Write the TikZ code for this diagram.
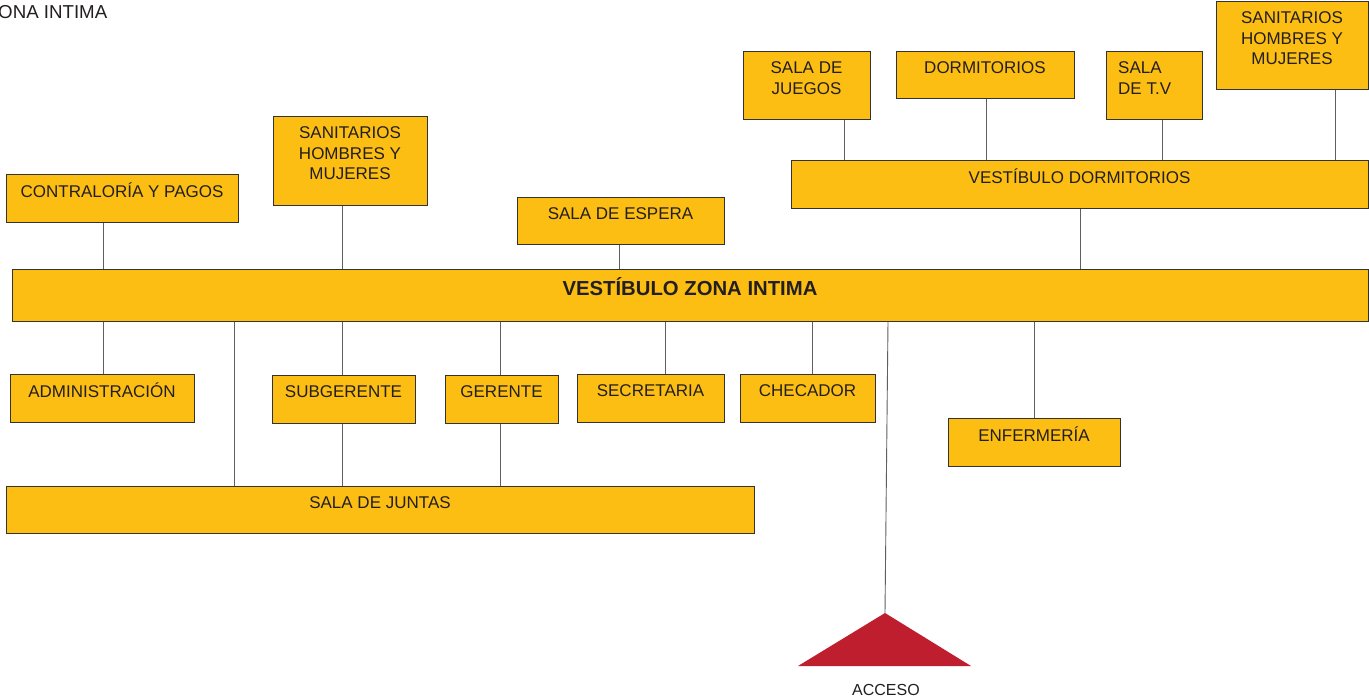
\documentclass[tikz,border=0pt]{standalone}
\usepackage{fontspec}
\setmainfont{Liberation Sans}
\usetikzlibrary{fit}
\definecolor{boxfill}{RGB}{252,190,18}
\definecolor{boxline}{RGB}{50,50,50}
\definecolor{conn}{RGB}{95,95,95}
\definecolor{txt}{RGB}{35,31,32}
\definecolor{accred}{RGB}{190,30,45}
\begin{document}
\begin{tikzpicture}[x=1pt,y=-1pt,
  room/.style={draw=boxline, fill=boxfill, line width=1pt, inner sep=0pt, rectangle},
  lbl/.style={anchor=north, inner sep=0pt, align=center, text=txt,
    font=\fontsize{17}{20.5}\selectfont, yshift=-8.6pt},
  link/.style={draw=conn, line width=0.9pt}]
\useasboundingbox (0,0) rectangle (1369,699);
\fill[white] (0,0) rectangle (1369,699);

% boxes
\node[room, fit={(6,174) (238,222)}] (contra) {};
\node[room, fit={(273,116) (427,205)}] (sanL) {};
\node[room, fit={(517,197) (724,244)}] (espera) {};
\node[room, fit={(12,269) (1368,321)}] (main) {};
\node[room, fit={(791,160) (1368,208)}] (vdorm) {};
\node[room, fit={(743,51) (870,119)}] (juegos) {};
\node[room, fit={(896,51) (1074,98)}] (dorm) {};
\node[room, fit={(1106,51) (1202,119)}] (tv) {};
\node[room, fit={(1216,1) (1368,89)}] (sanR) {};
\node[room, fit={(10,374) (194,422)}] (admin) {};
\node[room, fit={(272,375) (415,423)}] (subg) {};
\node[room, fit={(445,375) (558,423)}] (ger) {};
\node[room, fit={(577,374) (724,422)}] (secr) {};
\node[room, fit={(740,374) (875,422)}] (chec) {};
\node[room, fit={(948,418) (1120,466)}] (enf) {};
\node[room, fit={(6,486) (754,533)}] (juntas) {};

% labels
\node[inner sep=0pt, anchor=base east, text=txt, font=\fontsize{18.7}{22}\selectfont] (title) at (107.5,18) {ZONA INTIMA};
\node[lbl] (contraT) at (contra.north) {\strut CONTRALORÍA Y PAGOS};
\node[lbl] (sanLT) at (sanL.north) {\strut SANITARIOS\\HOMBRES Y\\MUJERES};
\node[lbl] (esperaT) at (espera.north) {\strut SALA DE ESPERA};
\node[inner sep=0pt, anchor=north, text=txt, font=\fontsize{20.3}{24}\selectfont\bfseries] (mainT) at ([yshift=-9pt]main.north) {\strut VESTÍBULO ZONA INTIMA};
\node[lbl] (vdormT) at (vdorm.north) {\strut VESTÍBULO DORMITORIOS};
\node[lbl] (juegosT) at (juegos.north) {\strut SALA DE\\JUEGOS};
\node[lbl] (dormT) at (dorm.north) {\strut DORMITORIOS};
\node[lbl, anchor=north west, align=left] (tvT) at ([xshift=12.5pt]tv.north west) {\strut SALA\\DE T.V};
\node[lbl] (sanRT) at (sanR.north) {\strut SANITARIOS\\HOMBRES Y\\MUJERES};
\node[lbl] (adminT) at (admin.north) {\strut ADMINISTRACIÓN};
\node[lbl] (subgT) at (subg.north) {\strut SUBGERENTE};
\node[lbl] (gerT) at (ger.north) {\strut GERENTE};
\node[lbl] (secrT) at (secr.north) {\strut SECRETARIA};
\node[lbl] (checT) at (chec.north) {\strut CHECADOR};
\node[lbl] (enfT) at (enf.north) {\strut ENFERMERÍA};
\node[lbl] (juntasT) at (juntas.north) {\strut SALA DE JUNTAS};

% connectors above main bar
\draw[link] (103,0 |- contra.south) -- (103,0 |- main.north);
\draw[link] (342,0 |- sanL.south) -- (342,0 |- main.north);
\draw[link] (619,0 |- espera.south) -- (619,0 |- main.north);
\draw[link] (1080,0 |- vdorm.south) -- (1080,0 |- main.north);
\draw[link] (844,0 |- juegos.south) -- (844,0 |- vdorm.north);
\draw[link] (986,0 |- dorm.south) -- (986,0 |- vdorm.north);
\draw[link] (1162,0 |- tv.south) -- (1162,0 |- vdorm.north);
\draw[link] (1335,0 |- sanR.south) -- (1335,0 |- vdorm.north);

% connectors below main bar
\draw[link] (103,0 |- main.south) -- (103,0 |- admin.north);
\draw[link] (234,0 |- main.south) -- (234,0 |- juntas.north);
\draw[link] (342,0 |- main.south) -- (342,0 |- subg.north);
\draw[link] (342,0 |- subg.south) -- (342,0 |- juntas.north);
\draw[link] (500,0 |- main.south) -- (500,0 |- ger.north);
\draw[link] (500,0 |- ger.south) -- (500,0 |- juntas.north);
\draw[link] (665,0 |- main.south) -- (665,0 |- secr.north);
\draw[link] (812,0 |- main.south) -- (812,0 |- chec.north);
\draw[link] (1034,0 |- main.south) -- (1034,0 |- enf.north);

% access
\coordinate (apex) at (885,613);
\coordinate (baseR) at (971,666);
\coordinate (baseL) at (798,666);
\fill[accred] (apex) -- (baseR) -- (baseL) -- cycle;
\draw[link] (888,0 |- main.south) -- (apex);
\node[inner sep=0pt, anchor=base, text=txt, font=\fontsize{16}{19}\selectfont] (accT) at (886,695) {ACCESO};
\end{tikzpicture}
\end{document}
